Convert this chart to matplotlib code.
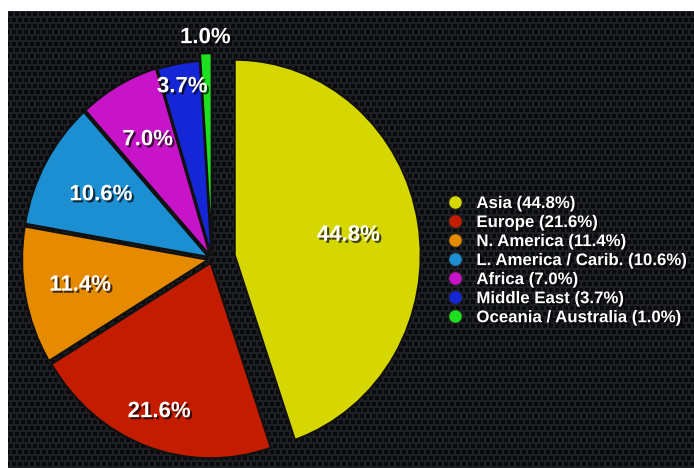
import numpy as np
import matplotlib.pyplot as plt
import matplotlib.patheffects as pe
from matplotlib.lines import Line2D

regions = ['Asia', 'Europe', 'N. America', 'L. America / Carib.',
           'Africa', 'Middle East', 'Oceania / Australia']
shares = [44.8, 21.6, 11.4, 10.6, 7.0, 3.7, 1.0]
colors = ['#d6d600', '#c41c00', '#e68a00', '#1b8fd2', '#c814c8', '#1426d6', '#1ee01e']
# slice offsets (px) and how far out (fraction of radius) each percentage sits
explode = [23, 4, 4, 4, 4, 3, 10]
label_dist = [0.62, 0.81, 0.70, 0.66, 0.68, 0.88, 1.08]

plt.rcParams['font.family'] = ['Liberation Sans', 'DejaVu Sans']

fig = plt.figure(figsize=(6.94, 4.68), dpi=100)
fig.patch.set_facecolor('white')

# dark perforated metal backdrop
bg = fig.add_axes([8 / 694, 0, 686 / 694, 457 / 468])
yy, xx = np.mgrid[0:457, 0:686]
row = yy // 6
dots = ((xx + (row % 2) * 3) % 6 - 2.5) ** 2 + (yy % 6 - 2.5) ** 2 < 5
base = np.array([30, 32, 37]) / 255
hole = np.array([9, 10, 12]) / 255
tex = np.where(dots[..., None], hole, base)
bg.imshow(tex, aspect='auto', interpolation='bilinear')
bg.axis('off')

# the original pie is a little taller than wide
stretch = 1.05
ax = fig.add_axes([0, 0, 1, 1])
ax.set_facecolor('none')
wedges, _ = ax.pie(shares, colors=colors, startangle=90, counterclock=False,
                   center=(212, (468 - 259) / stretch), radius=186, explode=explode,
                   wedgeprops=dict(edgecolor='#111111', linewidth=1.5))
ax.set_xlim(0, 694)
ax.set_ylim(0, 468 / stretch)
ax.set_aspect('auto')
ax.axis('off')

shadow = [pe.withSimplePatchShadow(offset=(1.5, -1.5), shadow_rgbFace='black', alpha=0.7)]
for w, v, d in zip(wedges, shares, label_dist):
    ang = np.deg2rad((w.theta1 + w.theta2) / 2)
    x = w.center[0] + d * w.r * np.cos(ang)
    y = w.center[1] + d * w.r * np.sin(ang)
    ax.text(x, y, f'{v:.1f}%', ha='center', va='center', color='white',
            fontsize=16, fontweight='bold', path_effects=shadow)

handles = [Line2D([], [], marker='o', ls='none', markersize=10,
                  markerfacecolor=c, markeredgecolor='#222222') for c in colors]
labels = [f'{r} ({v:.1f}%)' for r, v in zip(regions, shares)]
leg = fig.legend(handles, labels, loc='upper left',
                 bbox_to_anchor=(447 / 694, (468 - 196) / 468),
                 frameon=False, prop=dict(size=12.1, weight='bold'),
                 labelcolor='white', labelspacing=0.24, handlelength=1.0,
                 handletextpad=0.75, borderpad=0, borderaxespad=0)
for t in leg.get_texts():
    t.set_path_effects(shadow)

fig.savefig('out.png', dpi=100, facecolor=fig.get_facecolor())
